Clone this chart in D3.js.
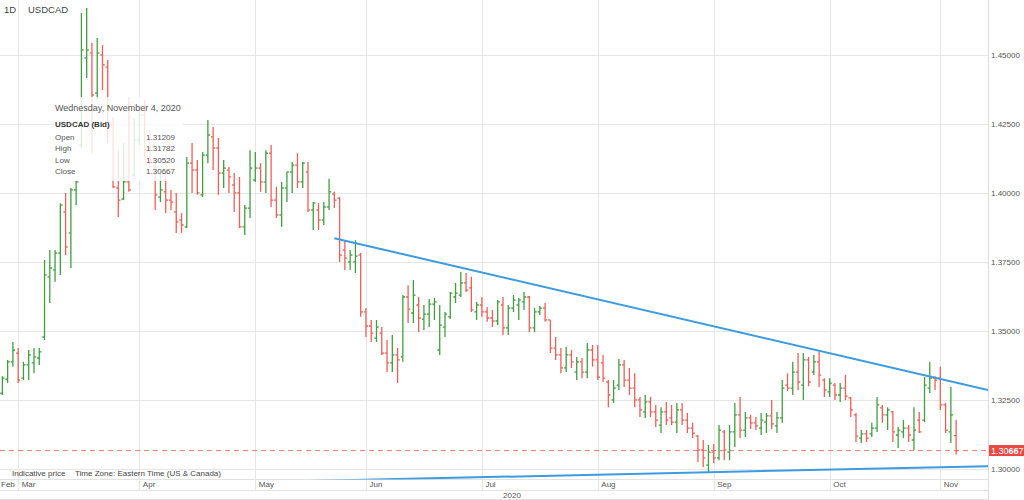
<!DOCTYPE html>
<html>
<head>
<meta charset="utf-8">
<script src="https://cdn.jsdelivr.net/npm/d3@7"></script>
<style>
  body { margin: 0; background: #fff; }
  svg { display: block; font-family: "Liberation Sans", Arial, sans-serif; }
  .grid line { stroke: #e6e6e6; shape-rendering: crispEdges; }
  .axis text { fill: #555; font-size: 8px; }
</style>
</head>
<body>
<div id="chart"></div>
<script>
// USDCAD daily bars
var firstDay = "2020-02-25", lastDay = "2020-11-04";

var open = [
  1.3275,1.3325,1.3388,1.3420,1.3329,1.3377,1.3384,1.3402,1.3478,1.3696,
  1.3721,1.3782,1.3931,1.3855,1.4011,1.4174,1.4489,1.4507,1.4362,1.4500,
  1.4456,1.4246,1.4018,1.3978,1.4040,1.4065,1.4192,1.4282,1.4155,1.4119,
  1.3985,1.4004,1.3974,1.3931,1.3902,1.3877,1.4108,1.4083,1.3993,1.4137,
  1.4203,1.4163,1.4072,1.4083,1.4029,1.4000,1.3877,1.3945,1.4047,1.4090,
  1.4040,1.4144,1.3974,1.3920,1.4018,1.4076,1.4101,1.4040,1.4076,1.3938,
  1.3938,1.3902,1.3949,1.3996,1.3981,1.3793,1.3750,1.3750,1.3775,1.3569,
  1.3518,1.3474,1.3492,1.3420,1.3384,1.3413,1.3406,1.3623,1.3565,1.3594,
  1.3543,1.3561,1.3597,1.3431,1.3514,1.3551,1.3623,1.3630,1.3674,1.3656,
  1.3569,1.3594,1.3569,1.3547,1.3536,1.3594,1.3511,1.3583,1.3594,1.3605,
  1.3623,1.3511,1.3569,1.3583,1.3540,1.3438,1.3413,1.3366,1.3413,1.3351,
  1.3388,1.3351,1.3431,1.3395,1.3384,1.3315,1.3250,1.3304,1.3377,1.3322,
  1.3293,1.3250,1.3207,1.3243,1.3207,1.3159,1.3207,1.3185,1.3170,1.3214,
  1.3177,1.3148,1.3119,1.3069,1.3014,1.3061,1.3040,1.3134,1.3061,1.3134,
  1.3196,1.3141,1.3185,1.3167,1.3148,1.3170,1.3192,1.3156,1.3185,1.3304,
  1.3293,1.3351,1.3304,1.3395,1.3351,1.3388,1.3322,1.3279,1.3304,1.3268,
  1.3293,1.3257,1.3196,1.3112,1.3127,1.3127,1.3148,1.3221,1.3196,1.3207,
  1.3123,1.3134,1.3148,1.3105,1.3177,1.3177,1.3293,1.3329,1.3329,1.3232,
  1.3134,1.31209
];
var high = [
  1.3336,1.3395,1.3460,1.3438,1.3388,1.3431,1.3438,1.3438,1.3757,1.3793,
  1.3793,1.3963,1.4000,1.4018,1.4047,1.4652,1.4670,1.4543,1.4561,1.4536,
  1.4482,1.4275,1.4155,1.4181,1.4348,1.4271,1.4318,1.4337,1.4228,1.4130,
  1.4072,1.4072,1.4011,1.4000,1.3927,1.4130,1.4181,1.4119,1.4148,1.4264,
  1.4239,1.4199,1.4119,1.4094,1.4072,1.4058,1.3956,1.4155,1.4148,1.4108,
  1.4155,1.4174,1.4022,1.4040,1.4076,1.4112,1.4144,1.4112,1.4112,1.3967,
  1.3963,1.3967,1.4051,1.4004,1.3985,1.3829,1.3793,1.3829,1.3782,1.3583,
  1.3540,1.3540,1.3514,1.3467,1.3485,1.3438,1.3630,1.3666,1.3685,1.3623,
  1.3594,1.3616,1.3619,1.3594,1.3569,1.3641,1.3674,1.3714,1.3710,1.3696,
  1.3605,1.3623,1.3587,1.3576,1.3612,1.3623,1.3594,1.3630,1.3619,1.3641,
  1.3627,1.3583,1.3590,1.3601,1.3540,1.3478,1.3438,1.3442,1.3431,1.3406,
  1.3402,1.3456,1.3449,1.3449,1.3413,1.3322,1.3322,1.3398,1.3395,1.3366,
  1.3347,1.3261,1.3268,1.3261,1.3232,1.3224,1.3243,1.3232,1.3239,1.3239,
  1.3203,1.3167,1.3123,1.3105,1.3087,1.3090,1.3159,1.3141,1.3159,1.3239,
  1.3261,1.3206,1.3196,1.3188,1.3203,1.3203,1.3250,1.3206,1.3322,1.3347,
  1.3388,1.3420,1.3420,1.3406,1.3413,1.3424,1.3329,1.3329,1.3311,1.3311,
  1.3340,1.3261,1.3203,1.3141,1.3141,1.3167,1.3261,1.3232,1.3224,1.3210,
  1.3152,1.3177,1.3159,1.3224,1.3206,1.3333,1.3388,1.3336,1.3370,1.3239,
  1.3297,1.31782
];
var low = [
  1.3268,1.3311,1.3370,1.3311,1.3322,1.3322,1.3347,1.3377,1.3467,1.3601,
  1.3678,1.3703,1.3775,1.3728,1.3956,1.4163,1.4416,1.4144,1.4337,1.4373,
  1.4181,1.4018,1.3913,1.3974,1.4004,1.4058,1.4174,1.4119,1.4090,1.3938,
  1.3967,1.3927,1.3938,1.3855,1.3855,1.3873,1.4000,1.3993,1.3985,1.4108,
  1.4083,1.3993,1.4018,1.4000,1.3931,1.3873,1.3848,1.3909,1.4040,1.4004,
  1.4000,1.3949,1.3909,1.3877,1.3967,1.4000,1.4018,1.4018,1.3931,1.3866,
  1.3866,1.3884,1.3938,1.3945,1.3750,1.3721,1.3721,1.3710,1.3551,1.3478,
  1.3460,1.3460,1.3413,1.3351,1.3351,1.3311,1.3388,1.3529,1.3529,1.3496,
  1.3503,1.3514,1.3540,1.3413,1.3478,1.3543,1.3601,1.3623,1.3641,1.3569,
  1.3540,1.3551,1.3533,1.3514,1.3521,1.3485,1.3485,1.3569,1.3540,1.3576,
  1.3496,1.3496,1.3558,1.3533,1.3420,1.3395,1.3347,1.3351,1.3366,1.3322,
  1.3329,1.3329,1.3370,1.3322,1.3315,1.3224,1.3239,1.3286,1.3297,1.3268,
  1.3224,1.3188,1.3185,1.3188,1.3152,1.3130,1.3159,1.3159,1.3130,1.3159,
  1.3130,1.3112,1.3025,1.3007,1.2985,1.3021,1.3032,1.3032,1.3032,1.3080,
  1.3112,1.3116,1.3145,1.3141,1.3123,1.3130,1.3145,1.3130,1.3167,1.3282,
  1.3268,1.3286,1.3250,1.3300,1.3340,1.3297,1.3261,1.3261,1.3250,1.3243,
  1.3250,1.3188,1.3098,1.3094,1.3098,1.3116,1.3134,1.3167,1.3141,1.3098,
  1.3076,1.3112,1.3098,1.3069,1.3130,1.3170,1.3275,1.3286,1.3214,1.3130,
  1.3094,1.30520
];
var close = [
  1.3329,1.3388,1.3431,1.3322,1.3377,1.3413,1.3406,1.3424,1.3703,1.3728,
  1.3782,1.3956,1.3804,1.4011,1.4040,1.4518,1.4518,1.4355,1.4507,1.4464,
  1.4246,1.4022,1.3974,1.4040,1.4011,1.4192,1.4282,1.4155,1.4119,1.3993,
  1.4011,1.3974,1.3967,1.3895,1.3884,1.4108,1.4083,1.4000,1.4137,1.4210,
  1.4163,1.4072,1.4090,1.4058,1.4000,1.3877,1.3945,1.4090,1.4090,1.4040,
  1.4144,1.3974,1.3920,1.4018,1.4076,1.4101,1.4040,1.4108,1.3938,1.3963,
  1.3902,1.3949,1.4004,1.3974,1.3775,1.3764,1.3775,1.3771,1.3569,1.3518,
  1.3492,1.3514,1.3420,1.3384,1.3413,1.3395,1.3623,1.3579,1.3630,1.3547,
  1.3561,1.3597,1.3605,1.3521,1.3561,1.3637,1.3637,1.3674,1.3648,1.3576,
  1.3594,1.3569,1.3547,1.3536,1.3605,1.3511,1.3583,1.3612,1.3612,1.3623,
  1.3511,1.3569,1.3583,1.3540,1.3438,1.3413,1.3366,1.3413,1.3388,1.3388,
  1.3351,1.3431,1.3395,1.3333,1.3329,1.3268,1.3293,1.3377,1.3322,1.3293,
  1.3250,1.3214,1.3243,1.3207,1.3177,1.3207,1.3177,1.3170,1.3214,1.3177,
  1.3148,1.3130,1.3069,1.3040,1.3061,1.3040,1.3141,1.3069,1.3134,1.3196,
  1.3141,1.3185,1.3167,1.3156,1.3177,1.3192,1.3163,1.3185,1.3293,1.3293,
  1.3351,1.3315,1.3395,1.3315,1.3388,1.3340,1.3286,1.3311,1.3268,1.3293,
  1.3264,1.3214,1.3119,1.3127,1.3112,1.3148,1.3232,1.3196,1.3214,1.3134,
  1.3141,1.3148,1.3123,1.3141,1.3134,1.3304,1.3329,1.3322,1.3232,1.3141,
  1.3196,1.30667
];

var priceTicks = [1.30, 1.325, 1.35, 1.375, 1.40, 1.425, 1.45];
// trend lines: [bar index, price]
var trendUpper = [[63, 1.3836], [187.05, 1.3286]];
var trendLower = [[40, 1.2949], [187.05, 1.3010]];

var W = 1024, H = 500, plotW = 988, plotH = 479.5;
var green = "#3f9f3f", red = "#ef5f57", blue = "#3d9be0";

var parse = d3.timeParse("%Y-%m-%d");
var days = d3.timeDay.range(parse(firstDay), d3.timeDay.offset(parse(lastDay), 1))
  .filter(function(d) { var w = d.getDay(); return w !== 0 && w !== 6; });

var bars = days.map(function(d, i) {
  return {date: d, i: i, o: open[i], h: high[i], l: low[i], c: close[i]};
});
var last = bars[bars.length - 1];

// month gridlines sit on the last bar on or before the 1st
var monthStarts = d3.timeMonth.range(parse("2020-03-01"), parse("2020-11-02"));
var monthIdx = monthStarts.map(function(m) { return d3.bisectRight(days, m) - 1; });
var monthFmt = d3.timeFormat("%b");

var x = d3.scaleLinear().domain([-0.45, 187.05]).range([0, plotW]);
var y = d3.scaleLinear().domain([1.296, 1.4699]).range([480, 0]);

var svg = d3.select("#chart").append("svg")
  .attr("width", W)
  .attr("height", H);

svg.append("defs").append("clipPath").attr("id", "plot")
  .append("rect").attr("x", 0).attr("y", 0).attr("width", plotW).attr("height", plotH);

//axes
var yAxis = d3.axisRight(y)
  .tickValues(priceTicks)
  .tickFormat(d3.format(".5f"))
  .tickSize(-plotW)
  .tickPadding(3);
svg.append("g")
  .attr("class", "y axis grid")
  .attr("transform", "translate(" + plotW + ",0)")
  .call(yAxis)
  .call(function(g) { g.select(".domain").remove(); });

var xAxis = d3.axisBottom(x)
  .tickValues(monthIdx)
  .tickFormat(function(d, i) { return monthFmt(monthStarts[i]); })
  .tickSize(-490);
svg.append("g")
  .attr("class", "x axis grid")
  .attr("transform", "translate(0,490)")
  .call(xAxis)
  .call(function(g) {
    g.select(".domain").remove();
    g.selectAll("text").attr("text-anchor", "start").attr("x", 3).attr("y", -3).attr("dy", null);
  });

svg.append("text").attr("class", "axis")
  .attr("x", 1).attr("y", 487).style("fill", "#555").style("font-size", "8px")
  .text(monthFmt(days[0]));

// frame lines of the time axis
[479.5, 490.5, 499.5].forEach(function(v) {
  svg.append("line").attr("x1", 0).attr("x2", plotW).attr("y1", v).attr("y2", v)
    .style("stroke", "#e2e2e2");
});
svg.append("line").attr("x1", plotW + 0.5).attr("x2", plotW + 0.5).attr("y1", 0).attr("y2", H)
  .style("stroke", "#dcdcdc");

svg.append("text")
  .attr("x", 512).attr("y", 497.5)
  .attr("text-anchor", "middle")
  .style("font-size", "8px").style("fill", "#555")
  .text(d3.timeFormat("%Y")(last.date));

var plot = svg.append("g").attr("clip-path", "url(#plot)");

// last price line
plot.append("line")
  .attr("x1", 0).attr("x2", plotW)
  .attr("y1", y(last.c)).attr("y2", y(last.c))
  .style("stroke", "#f07f78").style("stroke-width", 1).style("stroke-dasharray", "5,4");

// OHLC bars
var bar = plot.selectAll("g.bar").data(bars).enter().append("g")
  .attr("class", "bar")
  .style("stroke", function(d) { return d.c >= d.o ? green : red; })
  .style("stroke-width", 1.3);
bar.append("line")
  .attr("x1", function(d) { return x(d.i); }).attr("x2", function(d) { return x(d.i); })
  .attr("y1", function(d) { return y(d.h); }).attr("y2", function(d) { return y(d.l); });
bar.append("line")
  .attr("x1", function(d) { return x(d.i) - 2.2; }).attr("x2", function(d) { return x(d.i); })
  .attr("y1", function(d) { return y(d.o); }).attr("y2", function(d) { return y(d.o); });
bar.append("line")
  .attr("x1", function(d) { return x(d.i); }).attr("x2", function(d) { return x(d.i) + 2.2; })
  .attr("y1", function(d) { return y(d.c); }).attr("y2", function(d) { return y(d.c); });

// trend lines
var trend = d3.line()
  .x(function(d) { return x(d[0]); })
  .y(function(d) { return y(d[1]); });
[trendUpper, trendLower].forEach(function(t) {
  plot.append("path").attr("d", trend(t))
    .style("fill", "none").style("stroke", blue).style("stroke-width", 2);
});

// last price tag
var tag = svg.append("g").attr("transform", "translate(" + (plotW + 1) + "," + y(last.c) + ")");
tag.append("rect").attr("x", 0).attr("y", -5.5).attr("width", 40).attr("height", 11)
  .style("fill", "#e8483f");
var tagText = tag.append("text").attr("x", 2).attr("y", 3.5)
  .style("fill", "#fff").style("font-size", "9px");
var lastStr = d3.format(".5f")(last.c);
tagText.append("tspan").text(lastStr.slice(0, 4));
tagText.append("tspan").style("font-weight", "bold").text(lastStr.slice(4, 6));
tagText.append("tspan").text(lastStr.slice(6));

// title
svg.append("text").attr("x", 4).attr("y", 12.5)
  .style("font-size", "9.5px").style("fill", "#444").text("1D");
svg.append("text").attr("x", 28).attr("y", 12.5)
  .style("font-size", "9.5px").style("fill", "#444").text("USDCAD");

// footer note
svg.append("text").attr("x", 12).attr("y", 476)
  .style("font-size", "8px").style("fill", "#444").text("Indicative price");
svg.append("text").attr("x", 75).attr("y", 476)
  .style("font-size", "8px").style("fill", "#444").text("Time Zone: Eastern Time (US & Canada)");

// tooltip for the last bar
var tip = svg.append("g").attr("transform", "translate(50,97)");
tip.append("rect").attr("width", 133).attr("height", 84)
  .style("fill", "#fff").style("fill-opacity", 0.82);
tip.append("text").attr("x", 5).attr("y", 13.5)
  .style("font-size", "9px").style("fill", "#555")
  .text(d3.timeFormat("%A, %B %-d, %Y")(last.date));
tip.append("text").attr("x", 5).attr("y", 30)
  .style("font-size", "8px").style("font-weight", "bold").style("fill", "#333")
  .text("USDCAD (Bid)");
var rows = [["Open", last.o], ["High", last.h], ["Low", last.l], ["Close", last.c]];
rows.forEach(function(r, k) {
  tip.append("text").attr("x", 5).attr("y", 43 + k * 11.3)
    .style("font-size", "8px").style("fill", "#555").text(r[0]);
  tip.append("text").attr("x", 125).attr("y", 43 + k * 11.3)
    .attr("text-anchor", "end")
    .style("font-size", "8px").style("fill", "#555").text(d3.format(".5f")(r[1]));
});
</script>
</body>
</html>
